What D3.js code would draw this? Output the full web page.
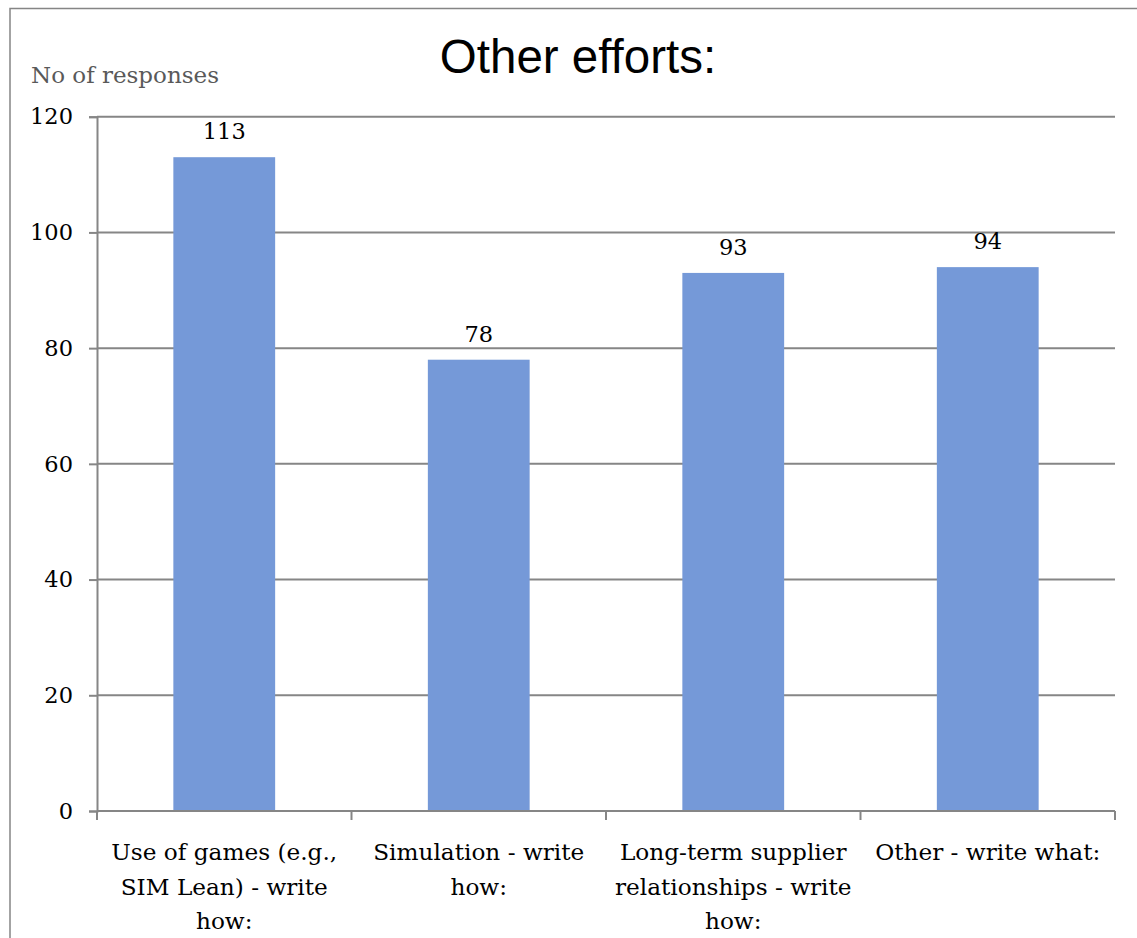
<!DOCTYPE html>
<html>
<head>
<meta charset="utf-8">
<script src="https://cdn.jsdelivr.net/npm/d3@7"></script>
<style>
  html, body { margin: 0; padding: 0; background: #fff; }
  svg { display: block; }
</style>
</head>
<body>
<script>
const categories = [
  "Use of games (e.g., SIM Lean) - write how:",
  "Simulation - write how:",
  "Long-term supplier relationships - write how:",
  "Other - write what:"
];
const categoryLines = [
  ["Use of games (e.g.,", "SIM Lean) - write", "how:"],
  ["Simulation - write", "how:"],
  ["Long-term supplier", "relationships - write", "how:"],
  ["Other - write what:"]
];
const values = [113, 78, 93, 94];
const yTicks = [0, 20, 40, 60, 80, 100, 120];
const titleText = "Other efforts:";
const yLabelText = "No of responses";

const W = 1137, H = 938;
const margin = { left: 97, right: 1137 - 1115, top: 116.7, bottom: 938 - 811 };
const serif = "'DejaVu Serif', serif";
const gridColor = "#868686";

const svg = d3.select("body").append("svg").attr("width", W).attr("height", H);

// outer border
svg.append("rect")
  .attr("x", 10).attr("y", 8.5)
  .attr("width", W + 20).attr("height", H + 20)
  .attr("fill", "none").attr("stroke", "#858585").attr("stroke-width", 1.5);

const x = d3.scaleBand().domain(categories).range([margin.left, W - margin.right]).paddingInner(0.6).paddingOuter(0.3);
const xOuter = d3.scaleBand().domain(categories).range([margin.left, W - margin.right]);
const y = d3.scaleLinear().domain([0, 120]).range([H - margin.bottom, margin.top]);

// gridlines
svg.append("g").selectAll("line").data(yTicks.filter(d => d > 0)).join("line")
  .attr("x1", margin.left).attr("x2", W - margin.right)
  .attr("y1", d => y(d)).attr("y2", d => y(d))
  .attr("stroke", gridColor).attr("stroke-width", 2);

// bars
svg.append("g").selectAll("rect").data(values).join("rect")
  .attr("x", (d, i) => x(categories[i]))
  .attr("width", x.bandwidth())
  .attr("y", d => y(d))
  .attr("height", d => y(0) - y(d))
  .attr("fill", "#7599d8");

// data labels
svg.append("g").selectAll("text").data(values).join("text")
  .attr("x", (d, i) => x(categories[i]) + x.bandwidth() / 2)
  .attr("y", d => y(d) - 18)
  .attr("text-anchor", "middle")
  .attr("font-family", serif).attr("font-size", 22.5)
  .attr("fill", "#000")
  .text(d => d);

// y axis
const yAxis = d3.axisLeft(y).tickValues(yTicks).tickSize(8).tickPadding(16);
const gy = svg.append("g").attr("transform", `translate(${margin.left},0)`).call(yAxis);
gy.select(".domain").attr("stroke", gridColor).attr("stroke-width", 2);
gy.selectAll(".tick line").attr("stroke", gridColor).attr("stroke-width", 2);
gy.selectAll(".tick text").attr("font-family", serif).attr("font-size", 22.5).attr("fill", "#000");

// x axis
const xAxisG = svg.append("g").attr("transform", `translate(0,${y(0)})`);
xAxisG.append("line")
  .attr("x1", margin.left).attr("x2", W - margin.right)
  .attr("y1", 0).attr("y2", 0)
  .attr("stroke", gridColor).attr("stroke-width", 2);
const boundaries = categories.map(c => xOuter(c)).concat([W - margin.right]);
xAxisG.selectAll("line.tk").data(boundaries).join("line").attr("class", "tk")
  .attr("x1", d => d).attr("x2", d => d).attr("y1", 0).attr("y2", 9)
  .attr("stroke", gridColor).attr("stroke-width", 2);

const labels = xAxisG.selectAll("text.cat").data(categoryLines).join("text").attr("class", "cat")
  .attr("text-anchor", "middle")
  .attr("font-family", serif).attr("font-size", 23.2).attr("fill", "#000");
labels.each(function(lines, i) {
  const cx = xOuter(categories[i]) + xOuter.bandwidth() / 2;
  d3.select(this).selectAll("tspan").data(lines).join("tspan")
    .attr("x", cx)
    .attr("y", (d, j) => 49 + j * 34.5)
    .text(d => d);
});

// title
svg.append("text")
  .attr("x", 578).attr("y", 73)
  .attr("text-anchor", "middle")
  .attr("font-family", "'Liberation Sans', Arial, sans-serif")
  .attr("font-size", 47.5).attr("fill", "#000")
  .text(titleText);

// y axis label
svg.append("text")
  .attr("x", 31).attr("y", 83)
  .attr("font-family", serif).attr("font-size", 23)
  .attr("fill", "#595959")
  .text(yLabelText);
</script>
</body>
</html>
